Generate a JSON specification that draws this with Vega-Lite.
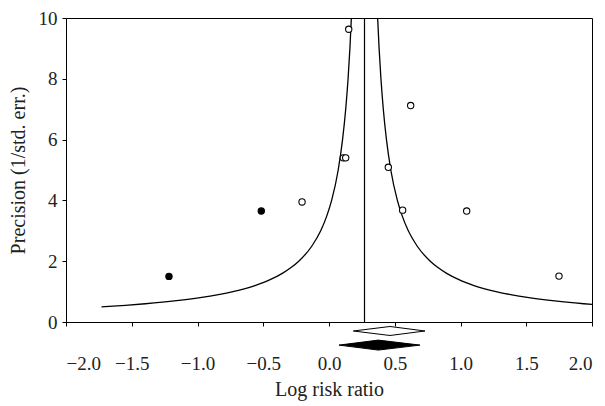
{
  "$schema": "https://vega.github.io/schema/vega-lite/v6.json",
  "autosize": "none",
  "width": 526,
  "height": 304,
  "padding": {"left": 66, "top": 18, "right": 13, "bottom": 84},
  "background": "white",
  "config": {
    "view": {"stroke": "black", "strokeWidth": 1},
    "font": "Liberation Serif",
    "axis": {
      "grid": false,
      "domainColor": "black",
      "tickColor": "black",
      "labelColor": "#222",
      "titleColor": "#222",
      "labelFont": "Liberation Serif",
      "titleFont": "Liberation Serif",
      "labelFontSize": 19,
      "titleFontSize": 20,
      "titleFontWeight": "normal",
      "tickSize": 4
    }
  },
  "datasets": {
    "studies": [
      {"lrr": -1.217, "precision": 1.50, "kind": "filled"},
      {"lrr": -0.515, "precision": 3.65, "kind": "filled"},
      {"lrr": -0.205, "precision": 3.95, "kind": "open"},
      {"lrr": 0.109, "precision": 5.40, "kind": "open"},
      {"lrr": 0.127, "precision": 5.40, "kind": "open"},
      {"lrr": 0.150, "precision": 9.63, "kind": "open"},
      {"lrr": 0.451, "precision": 5.09, "kind": "open"},
      {"lrr": 0.560, "precision": 3.68, "kind": "open"},
      {"lrr": 0.621, "precision": 7.12, "kind": "open"},
      {"lrr": 1.047, "precision": 3.65, "kind": "open"},
      {"lrr": 1.749, "precision": 1.51, "kind": "open"}
    ],
    "funnel": [
      {"side": "L", "x": -1.73, "p": 0.5},
      {"side": "L", "x": -1.548, "p": 0.55},
      {"side": "L", "x": -1.397, "p": 0.6},
      {"side": "L", "x": -1.159, "p": 0.7},
      {"side": "L", "x": -0.98, "p": 0.8},
      {"side": "L", "x": -0.841, "p": 0.9},
      {"side": "L", "x": -0.73, "p": 1.0},
      {"side": "L", "x": -0.563, "p": 1.2},
      {"side": "L", "x": -0.444, "p": 1.4},
      {"side": "L", "x": -0.355, "p": 1.6},
      {"side": "L", "x": -0.286, "p": 1.8},
      {"side": "L", "x": -0.23, "p": 2.0},
      {"side": "L", "x": -0.13, "p": 2.5},
      {"side": "L", "x": -0.063, "p": 3.0},
      {"side": "L", "x": -0.016, "p": 3.5},
      {"side": "L", "x": 0.02, "p": 4.0},
      {"side": "L", "x": 0.07, "p": 5.0},
      {"side": "L", "x": 0.103, "p": 6.0},
      {"side": "L", "x": 0.127, "p": 7.0},
      {"side": "L", "x": 0.145, "p": 8.0},
      {"side": "L", "x": 0.159, "p": 9.0},
      {"side": "L", "x": 0.17, "p": 10.0},
      {"side": "R", "x": 2.0, "p": 0.578},
      {"side": "R", "x": 1.937, "p": 0.6},
      {"side": "R", "x": 1.699, "p": 0.7},
      {"side": "R", "x": 1.52, "p": 0.8},
      {"side": "R", "x": 1.381, "p": 0.9},
      {"side": "R", "x": 1.27, "p": 1.0},
      {"side": "R", "x": 1.103, "p": 1.2},
      {"side": "R", "x": 0.984, "p": 1.4},
      {"side": "R", "x": 0.895, "p": 1.6},
      {"side": "R", "x": 0.826, "p": 1.8},
      {"side": "R", "x": 0.77, "p": 2.0},
      {"side": "R", "x": 0.67, "p": 2.5},
      {"side": "R", "x": 0.603, "p": 3.0},
      {"side": "R", "x": 0.556, "p": 3.5},
      {"side": "R", "x": 0.52, "p": 4.0},
      {"side": "R", "x": 0.47, "p": 5.0},
      {"side": "R", "x": 0.437, "p": 6.0},
      {"side": "R", "x": 0.413, "p": 7.0},
      {"side": "R", "x": 0.395, "p": 8.0},
      {"side": "R", "x": 0.381, "p": 9.0},
      {"side": "R", "x": 0.37, "p": 10.0}
    ],
    "center": [{"x": 0.27}],
    "diamonds": [
      {"d": "open", "x": 0.185, "y": -0.296, "y2": -0.296},
      {"d": "open", "x": 0.464, "y": -0.148, "y2": -0.444},
      {"d": "open", "x": 0.73, "y": -0.296, "y2": -0.296},
      {"d": "filled", "x": 0.076, "y": -0.76, "y2": -0.76},
      {"d": "filled", "x": 0.375, "y": -0.596, "y2": -0.924},
      {"d": "filled", "x": 0.692, "y": -0.76, "y2": -0.76}
    ]
  },
  "layer": [
    {
      "data": {"name": "center"},
      "mark": {"type": "rule", "color": "black", "strokeWidth": 1.2},
      "encoding": {
        "x": {
          "field": "x", "type": "quantitative",
          "scale": {"domain": [-2, 2], "nice": false, "zero": false},
          "axis": {
            "title": "Log risk ratio",
            "values": [-2, -1.5, -1, -0.5, 0, 0.5, 1, 1.5, 2],
            "format": ".1f",
            "labelPadding": 28,
            "titlePadding": 6
          }
        }
      }
    },
    {
      "data": {"name": "funnel"},
      "mark": {"type": "line", "color": "black", "strokeWidth": 1.3, "interpolate": "monotone"},
      "encoding": {
        "x": {"field": "x", "type": "quantitative"},
        "y": {
          "field": "p", "type": "quantitative",
          "scale": {"domain": [0, 10], "nice": false},
          "axis": {
            "title": "Precision (1/std. err.)",
            "values": [0, 2, 4, 6, 8, 10],
            "labelPadding": 5,
            "titlePadding": 10
          }
        },
        "detail": {"field": "side"},
        "order": {"field": "p", "type": "quantitative"}
      }
    },
    {
      "data": {"name": "diamonds"},
      "transform": [{"filter": "datum.d === 'open'"}],
      "mark": {"type": "area", "fill": "white", "stroke": "black", "strokeWidth": 1},
      "encoding": {
        "x": {"field": "x", "type": "quantitative"},
        "y": {"field": "y", "type": "quantitative"},
        "y2": {"field": "y2"}
      }
    },
    {
      "data": {"name": "diamonds"},
      "transform": [{"filter": "datum.d === 'filled'"}],
      "mark": {"type": "area", "fill": "black", "stroke": "black", "strokeWidth": 1},
      "encoding": {
        "x": {"field": "x", "type": "quantitative"},
        "y": {"field": "y", "type": "quantitative"},
        "y2": {"field": "y2"}
      }
    },
    {
      "data": {"name": "studies"},
      "mark": {"type": "point", "shape": "circle", "size": 40, "stroke": "black", "strokeWidth": 1.1, "opacity": 1},
      "encoding": {
        "x": {"field": "lrr", "type": "quantitative"},
        "y": {"field": "precision", "type": "quantitative"},
        "fill": {
          "field": "kind", "type": "nominal",
          "scale": {"domain": ["filled", "open"], "range": ["black", "white"]},
          "legend": null
        }
      }
    }
  ]
}
